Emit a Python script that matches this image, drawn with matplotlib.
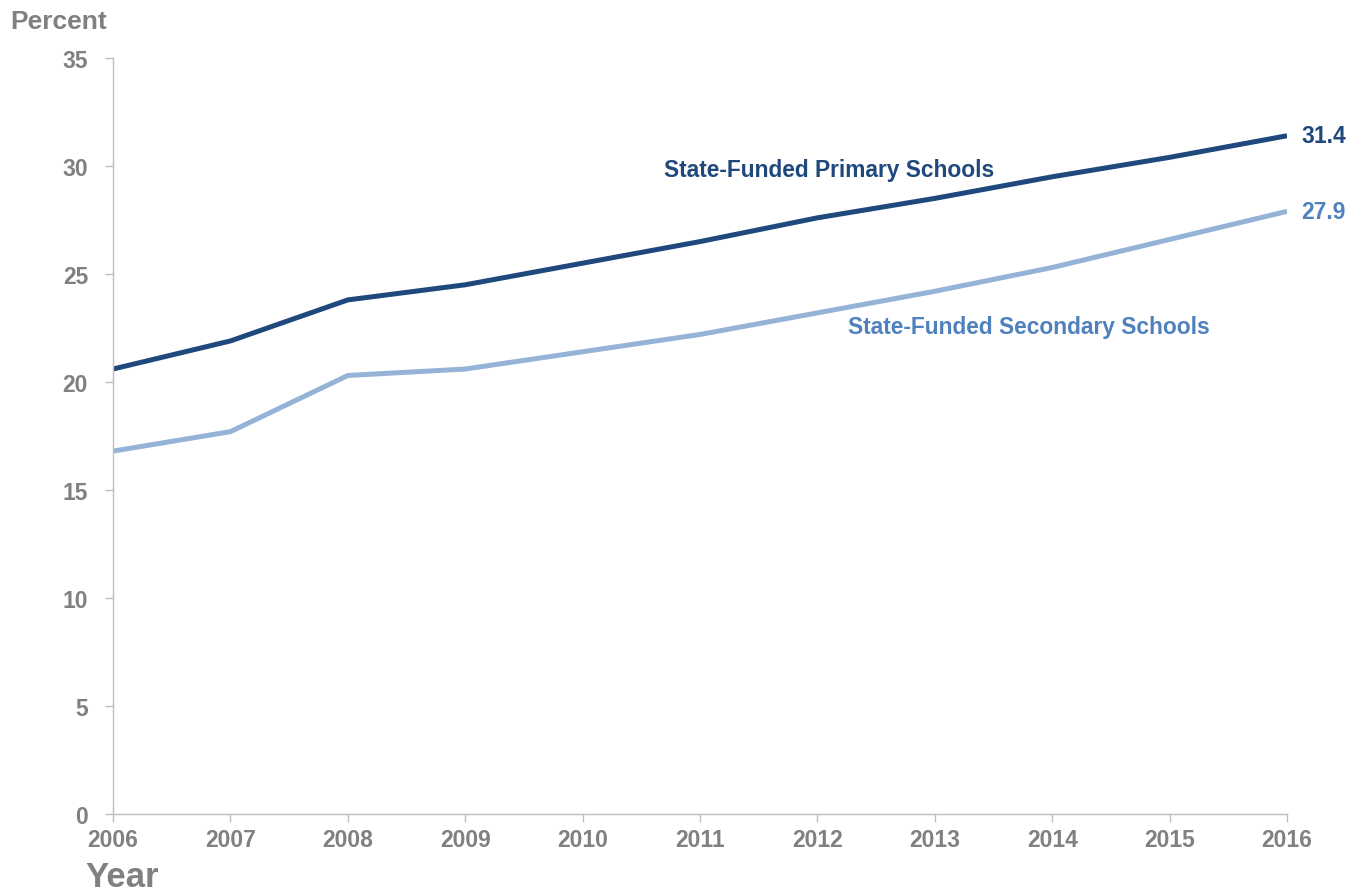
import matplotlib.pyplot as plt

years = [2006, 2007, 2008, 2009, 2010, 2011, 2012, 2013, 2014, 2015, 2016]
primary = [20.6, 21.9, 23.8, 24.5, 25.5, 26.5, 27.6, 28.5, 29.5, 30.4, 31.4]
secondary = [16.8, 17.7, 20.3, 20.6, 21.4, 22.2, 23.2, 24.2, 25.3, 26.6, 27.9]

dark = '#1F497D'
light = '#95B3D7'
light_txt = '#4F81BD'
grey = '#808080'

plt.rcParams['font.family'] = ['Liberation Sans', 'DejaVu Sans']
plt.rcParams['font.weight'] = 'bold'

fig = plt.figure(figsize=(13.65, 8.95), dpi=100)
ax = fig.add_axes([0.0828, 0.0894, 0.8601, 0.8447])

ax.plot(years, primary, color=dark, lw=3.6, solid_capstyle='butt')
ax.plot(years, secondary, color=light, lw=3.6, solid_capstyle='butt')

ax.set_xlim(2006, 2016)
ax.set_ylim(0, 35)
ax.set_xticks(years)
ax.set_yticks(range(0, 36, 5))

for s in ['top', 'right']:
    ax.spines[s].set_visible(False)
for s in ['left', 'bottom']:
    ax.spines[s].set_color('#BFBFBF')
    ax.spines[s].set_linewidth(1)
ax.tick_params(colors='#BFBFBF', labelcolor=grey, labelsize=16.5, length=6, width=1)
ax.tick_params(axis='y', pad=12)
ax.tick_params(axis='x', pad=4)

ax.text(2012.1, 29.85, 'State-Funded Primary Schools', color=dark, fontsize=16.4,
        ha='center', va='center', fontweight='bold')
ax.text(2013.8, 22.55, 'State-Funded Secondary Schools', color=light_txt, fontsize=16.4,
        ha='center', va='center', fontweight='bold')

ax.text(2016.12, primary[-1], '31.4', color=dark, fontsize=16.5, ha='left', va='center', fontweight='bold')
ax.text(2016.12, secondary[-1], '27.9', color=light_txt, fontsize=16.5, ha='left', va='center', fontweight='bold')

fig.text(10/1365, 1 - 22/895, 'Percent', color=grey, fontsize=19, ha='left', va='center', fontweight='bold')
fig.text(85/1365, 1 - 878/895, 'Year', color=grey, fontsize=25, ha='left', va='center', fontweight='bold')

fig.savefig('out.png', dpi=100)
